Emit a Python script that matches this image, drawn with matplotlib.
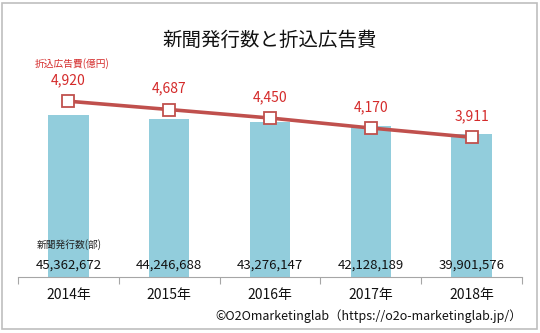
"""
Newspaper circulation vs. insert advertising spend (2014-2018)
"""
import matplotlib
matplotlib.use("Agg")
import matplotlib.pyplot as plt
from matplotlib.patches import Rectangle

plt.rcParams['font.family'] = ['Noto Sans CJK JP', 'DejaVu Sans']

years = ['2014年', '2015年', '2016年', '2017年', '2018年']
circulation = [45362672, 44246688, 43276147, 42128189, 39901576]   # 部
insert_ad = [4920, 4687, 4450, 4170, 3911]                         # 億円

BAR_COLOR = '#92CDDC'
LINE_COLOR = '#C0504D'
RED_TEXT = '#D42A2A'

fig = plt.figure(figsize=(5.4, 3.33), dpi=100)
ax = fig.add_axes([0.0333, 0.1682, 0.9334, 0.751])
ax2 = ax.twinx()

x = list(range(len(years)))
ax.bar(x, circulation, width=0.4, color=BAR_COLOR, zorder=1)
ax.set_xlim(-0.5, len(years) - 0.5)
ax.set_ylim(0, 70000000)

ax2.plot(x, insert_ad, color=LINE_COLOR, linewidth=2.6, marker='s',
         markersize=8, markerfacecolor='white', markeredgecolor=LINE_COLOR,
         markeredgewidth=1.3, zorder=3)
ax2.set_ylim(0, 7000)

# data labels
for i, v in enumerate(insert_ad):
    ax2.annotate(f"{v:,}", (i, v), xytext=(0, 10), textcoords='offset points',
                 ha='center', va='bottom', fontsize=10, color=RED_TEXT)
for i, v in enumerate(circulation):
    ax.text(i, 0.02, f"{v:,}", transform=ax.get_xaxis_transform(),
            ha='center', va='bottom', fontsize=9.5, color='#111111')

# axes styling
for a in (ax, ax2):
    for s in a.spines.values():
        s.set_visible(False)
    a.set_yticks([])
ax.spines['bottom'].set_visible(True)
ax.spines['bottom'].set_color('#A6A6A6')
ax.set_xticks([i - 0.5 for i in range(len(years) + 1)], minor=False)
ax.set_xticklabels([])
ax.tick_params(axis='x', length=5, color='#A6A6A6', width=0.8)
for i, lab in enumerate(years):
    ax.text(i, -0.045, lab, transform=ax.get_xaxis_transform(),
            ha='center', va='top', fontsize=10, color='#111111')

# titles and notes
fig.text(0.5, 0.88, '新聞発行数と折込広告費', ha='center', va='center',
         fontsize=14, color='#111111')
fig.text(0.065, 0.81, '折込広告費(億円)', ha='left', va='center',
         fontsize=7, color=RED_TEXT)
fig.text(0.068, 0.267, '新聞発行数(部)', ha='left', va='center',
         fontsize=7, color='#222222')
fig.text(0.967, 0.051, '©O2Omarketinglab（https://o2o-marketinglab.jp/）',
         ha='right', va='center', fontsize=9, color='#111111')

# chart border
fig.patches.append(Rectangle((0.004, 0.012), 0.99, 0.98, transform=fig.transFigure,
                             fill=False, edgecolor='#BFBFBF', linewidth=1.2))

fig.savefig('out.png', dpi=100)
